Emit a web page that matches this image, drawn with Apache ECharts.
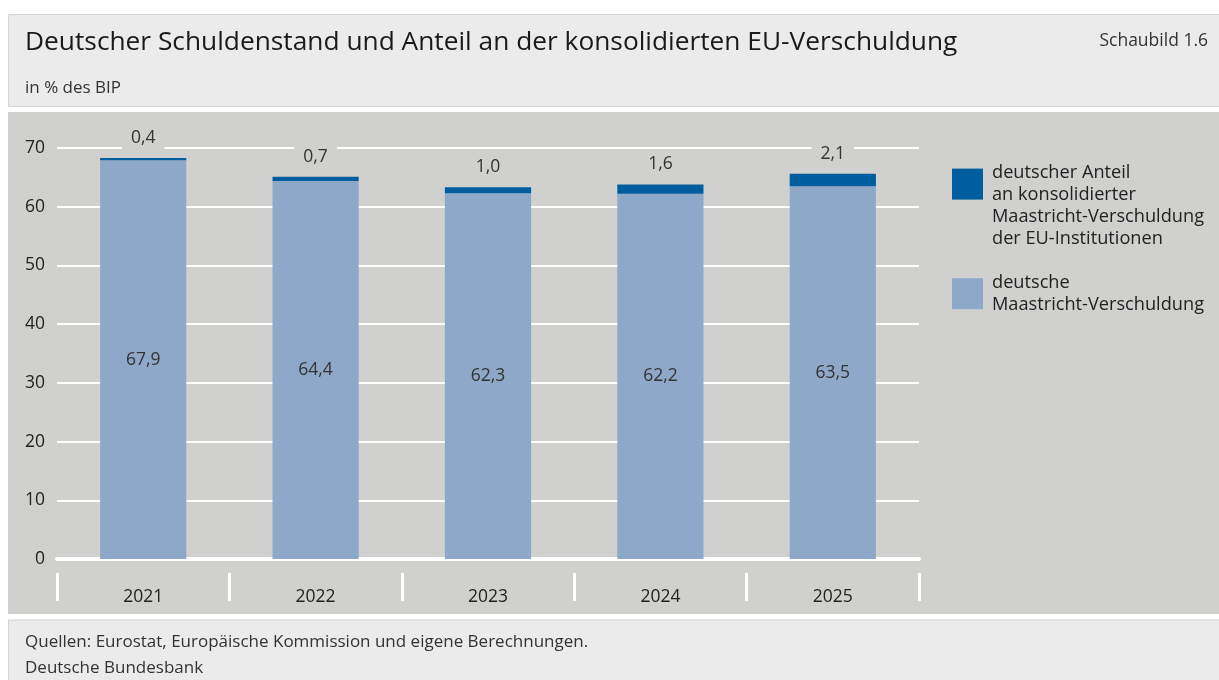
<!DOCTYPE html>
<html>
<head>
<meta charset="utf-8">
<script src="https://cdn.jsdelivr.net/npm/echarts@6/dist/echarts.min.js"></script>
<style>
  html, body { margin: 0; padding: 0; background: #fff; }
  #main { width: 1219px; height: 680px; }
</style>
</head>
<body>
<div id="main"></div>
<script>
var years = ['2021', '2022', '2023', '2024', '2025'];
var maastricht = [67.9, 64.4, 62.3, 62.2, 63.5];   // deutsche Maastricht-Verschuldung
var euAnteil = [0.4, 0.7, 1.0, 1.6, 2.1];           // Anteil an EU-Verschuldung
var yTicks = [0, 10, 20, 30, 40, 50, 60, 70];

var nameDark = 'deutscher Anteil\nan konsolidierter\nMaastricht-Verschuldung\nder EU-Institutionen';
var nameLight = 'deutsche\nMaastricht-Verschuldung';

var font = 'Open Sans';
var plotBg = '#d0d0ce';

function komma(v) { return v.toFixed(1).replace('.', ','); }

var myChart = echarts.init(document.getElementById('main'));
var option = {
    backgroundColor: '#fff',
    animation: false,
    textStyle: { fontFamily: font },
    graphic: [
        { type: 'rect', z: -10, shape: { x: 8.5, y: 14.5, width: 1215, height: 92 },
          style: { fill: '#ebebeb', stroke: '#d4d4d4', lineWidth: 1 } },
        { type: 'rect', z: -10, shape: { x: 8, y: 112, width: 1215, height: 502 },
          style: { fill: plotBg } },
        { type: 'rect', z: -10, shape: { x: 8.5, y: 620, width: 1215, height: 70 },
          style: { fill: '#ebebeb', stroke: '#d4d4d4', lineWidth: 1 } },
        { type: 'text', left: 25, top: 30,
          style: { text: 'Deutscher Schuldenstand und Anteil an der konsolidierten EU-Verschuldung',
                   font: '26.3px "Open Sans"', fill: '#1a1a1a' } },
        { type: 'text', right: 11, top: 32,
          style: { text: 'Schaubild 1.6', font: '17.5px "Open Sans"', fill: '#333' } },
        { type: 'text', left: 25, top: 80,
          style: { text: 'in % des BIP', font: '17px "Open Sans"', fill: '#333' } },
        { type: 'text', left: 25, top: 634,
          style: { text: 'Quellen: Eurostat, Europäische Kommission und eigene Berechnungen.',
                   font: '17px "Open Sans"', fill: '#333' } },
        { type: 'text', left: 25, top: 660,
          style: { text: 'Deutsche Bundesbank', font: '17px "Open Sans"', fill: '#333' } }
    ],
    legend: [
        {
            left: 952, top: 119, padding: 0,
            itemWidth: 31, itemHeight: 31, icon: 'rect',
            selectedMode: false,
            formatter: function (name) { return '\n\n' + name; },
            textStyle: { fontSize: 18.2, color: '#222', lineHeight: 21.7, padding: [0, 0, 0, 4], fontFamily: font },
            data: [nameDark]
        },
        {
            left: 952, top: 272, padding: 0,
            itemWidth: 31, itemHeight: 31, icon: 'rect',
            selectedMode: false,
            textStyle: { fontSize: 18.2, color: '#222', lineHeight: 21.7, padding: [0, 0, 0, 4], fontFamily: font },
            data: [nameLight]
        }
    ],
    grid: { left: 57, right: 300, top: 148, bottom: 121 },
    xAxis: [
        {
            type: 'category', data: years, offset: 14,
            axisLine: { show: false, onZero: false },
            axisTick: { show: true, length: 28, lineStyle: { color: '#fff', width: 3 } },
            axisLabel: { fontSize: 17.5, color: '#222', margin: 15, fontFamily: font }
        },
        {
            type: 'category', data: years, position: 'bottom',
            axisLine: { show: true, lineStyle: { color: '#fff', width: 4 } },
            axisTick: { show: false }, axisLabel: { show: false }
        }
    ],
    yAxis: {
        type: 'value', min: 0, max: 70, interval: 10,
        axisLine: { show: false }, axisTick: { show: false },
        splitLine: { lineStyle: { color: '#fff', width: 2 } },
        axisLabel: { fontSize: 17.5, color: '#222', margin: 12, fontFamily: font,
            formatter: function (v) { return yTicks.indexOf(v) >= 0 ? String(v) : ''; } }
    },
    series: [
        {
            name: nameLight, type: 'bar', stack: 'total', barWidth: '50%',
            itemStyle: { color: '#8ea8c9' },
            label: { show: true, position: 'inside', fontSize: 17.5, color: '#333', fontFamily: font,
                     formatter: function (p) { return komma(p.value); } },
            data: maastricht
        },
        {
            name: nameDark, type: 'bar', stack: 'total', barWidth: '50%',
            itemStyle: { color: '#005e9e' },
            label: { show: true, position: 'top', distance: 6, fontSize: 17.5, color: '#333', fontFamily: font,
                     backgroundColor: plotBg, padding: [1, 9, 5, 9],
                     formatter: function (p) { return komma(p.value); } },
            data: euAnteil
        }
    ]
};
myChart.setOption(option);
</script>
</body>
</html>
